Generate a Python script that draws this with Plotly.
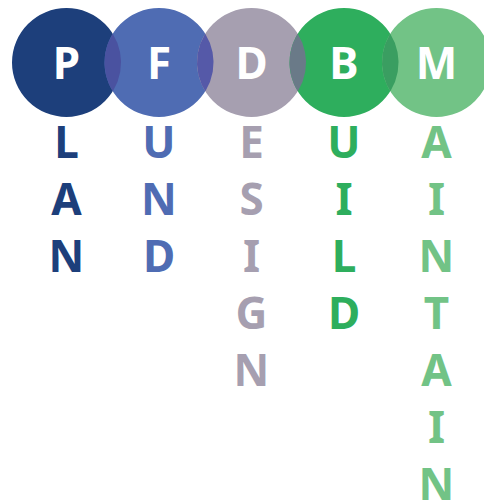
import numpy as np
import plotly.graph_objects as go

initials = ["P", "F", "D", "B", "M"]
words = ["PLAN", "FUND", "DESIGN", "BUILD", "MAINTAIN"]
colors = ["#1d3f7b", "#4f6cb3", "#a69fb0", "#2eae5d", "#72c386"]
overlap_colors = ["#4a52a0", "#5559a8", "#6a7a88", "#3a9e61"]

W, H = 484, 502
cx0, dx, cy, r = 66.5, 92.5, 62.5, 54.5
row0, drow = 146.5, 57
FONT = "Noto Sans"
fs = 44

fig = go.Figure()
shapes = []
for i, c in enumerate(colors):
    x = cx0 + i * dx
    shapes.append(dict(type="circle", xref="x", yref="y", x0=x - r, x1=x + r,
                       y0=cy - r, y1=cy + r, fillcolor=c, line_width=0, layer="below"))

# lens overlaps
for i, oc in enumerate(overlap_colors):
    x1 = cx0 + i * dx
    x2 = x1 + dx
    half = dx / 2
    a = np.arccos(half / r)
    t = np.linspace(-a, a, 60)
    xs1 = x1 + r * np.cos(t)
    ys1 = cy + r * np.sin(t)
    t2 = np.linspace(np.pi + a, np.pi - a, 60)
    xs2 = x2 + r * np.cos(t2)
    ys2 = cy + r * np.sin(t2)
    fig.add_trace(go.Scatter(x=np.concatenate([xs1, xs2]), y=np.concatenate([ys1, ys2]),
                             fill="toself", fillcolor=oc, mode="lines", line_width=0,
                             hoverinfo="skip", showlegend=False))

# initials
fig.add_trace(go.Scatter(x=[cx0 + i * dx for i in range(5)], y=[cy + 5] * 5, mode="text",
                         text=initials, textfont=dict(family=FONT, size=fs, color="white", weight="bold"),
                         showlegend=False, hoverinfo="skip"))

# remaining letters
for i, w in enumerate(words):
    letters = list(w[1:])
    fig.add_trace(go.Scatter(x=[cx0 + i * dx] * len(letters),
                             y=[row0 + k * drow for k in range(len(letters))],
                             mode="text", text=letters,
                             textfont=dict(family=FONT, size=fs, color=colors[i], weight="bold"),
                             showlegend=False, hoverinfo="skip"))

fig.update_layout(width=W, height=H, margin=dict(l=0, r=0, t=0, b=0),
                  paper_bgcolor="white", plot_bgcolor="white", shapes=shapes,
                  xaxis=dict(range=[0, W], visible=False, fixedrange=True),
                  yaxis=dict(range=[H, 0], visible=False, fixedrange=True))
fig.write_html("out.html", config={"displayModeBar": False},
               post_script="document.body.style.margin='0';document.body.style.overflow='hidden';")
